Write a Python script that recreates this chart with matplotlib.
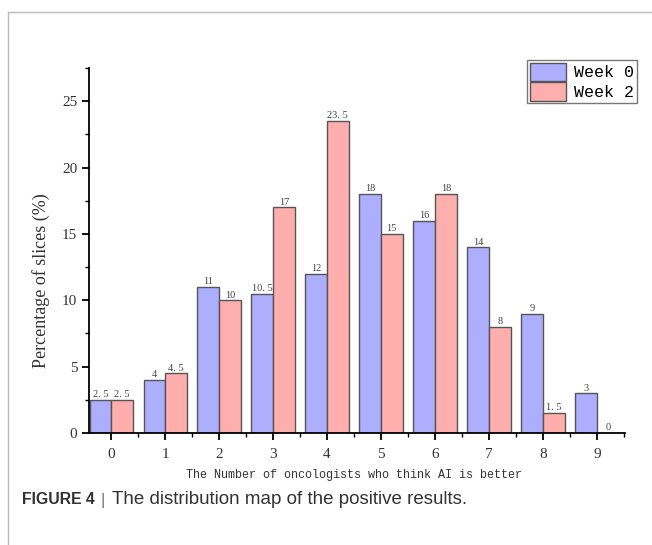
import matplotlib.pyplot as plt
import numpy as np
from matplotlib.ticker import MultipleLocator

# data
categories = [0, 1, 2, 3, 4, 5, 6, 7, 8, 9]
week0 = [2.5, 4, 11, 10.5, 12, 18, 16, 14, 9, 3]
week2 = [2.5, 4.5, 10, 17, 23.5, 15, 18, 8, 1.5, 0]
series_names = ["Week 0", "Week 2"]

serif = "Liberation Serif"
mono = "Liberation Mono"

fig = plt.figure(figsize=(6.52, 5.45), dpi=100)
ax = fig.add_axes([89 / 652, 1 - 433 / 545, (625 - 89) / 652, (433 - 68) / 545])

x = np.array(categories)
w = 0.4
b0 = ax.bar(x - w / 2, week0, w, color="#aeaeff", edgecolor="#555555", linewidth=1.0,
            label=series_names[0])
b1 = ax.bar(x + w / 2, week2, w, color="#ffaeae", edgecolor="#555555", linewidth=1.0,
            label=series_names[1])

# value labels
for bars, vals in [(b0, week0), (b1, week2)]:
    for r, v in zip(bars, vals):
        txt = ("%g" % v).replace(".", ". ")
        ax.text(r.get_x() + r.get_width() / 2, v + 0.05, txt, ha="center", va="bottom",
                fontsize=7.5, color="#444444", family=serif)

ax.set_xlim(-0.41, 9.52)
ax.set_ylim(0, 27.5)
ax.xaxis.set_major_locator(MultipleLocator(1))
ax.xaxis.set_minor_locator(MultipleLocator(0.5))
ax.yaxis.set_major_locator(MultipleLocator(5))
ax.yaxis.set_minor_locator(MultipleLocator(2.5))
ax.spines["top"].set_visible(False)
ax.spines["right"].set_visible(False)
ax.spines["left"].set_linewidth(1.3)
ax.spines["bottom"].set_linewidth(1.3)
ax.tick_params(which="major", direction="out", length=5, width=1.3, labelsize=11,
               labelcolor="#333333")
ax.tick_params(axis="x", which="major", pad=6)
ax.tick_params(which="minor", direction="out", length=3, width=1.0)
for lbl in ax.get_xticklabels() + ax.get_yticklabels():
    lbl.set_family(serif)

ax.set_xlabel("The Number of oncologists who think AI is better", family=mono,
              fontsize=8.5, color="#333333")
ax.xaxis.set_label_coords((354 - 89) / 536, -(469 - 433) / 365)
ax.set_ylabel("Percentage of slices (%)", family=serif, fontsize=13, color="#333333")
ax.yaxis.set_label_coords((50 - 89) / 536, (433 - 281) / 365)

leg = ax.legend(loc="upper right", bbox_to_anchor=(637 / 652, 1 - 60 / 545),
                bbox_transform=fig.transFigure, prop={"family": mono, "size": 12},
                frameon=True, fancybox=False, borderpad=0.15, handlelength=2.2,
                handleheight=1.3, handletextpad=0.5, labelspacing=0.1,
                borderaxespad=0)
leg.get_frame().set_edgecolor("#555555")
leg.get_frame().set_linewidth(1.0)

# page frame lines and caption
fig.add_artist(plt.Line2D([8 / 652, 1], [1 - 12 / 545, 1 - 12 / 545], color="#bbbbbb",
                          lw=1.0, transform=fig.transFigure))
fig.add_artist(plt.Line2D([8 / 652, 8 / 652], [0, 1 - 12 / 545], color="#bbbbbb",
                          lw=1.0, transform=fig.transFigure))
fig.text(22 / 652, 1 - 500 / 545, "FIGURE 4", family="Liberation Sans", weight="bold",
         fontsize=11.3, color="#333333", va="center")
fig.text(101 / 652, 1 - 500 / 545, "|", family="Liberation Sans", fontsize=12.5,
         color="#777777", va="center")
fig.text(112 / 652, 1 - 500 / 545, "The distribution map of the positive results.",
         family="Liberation Sans", fontsize=13.5, color="#333333", va="center")

fig.savefig("out.png", dpi=100)
